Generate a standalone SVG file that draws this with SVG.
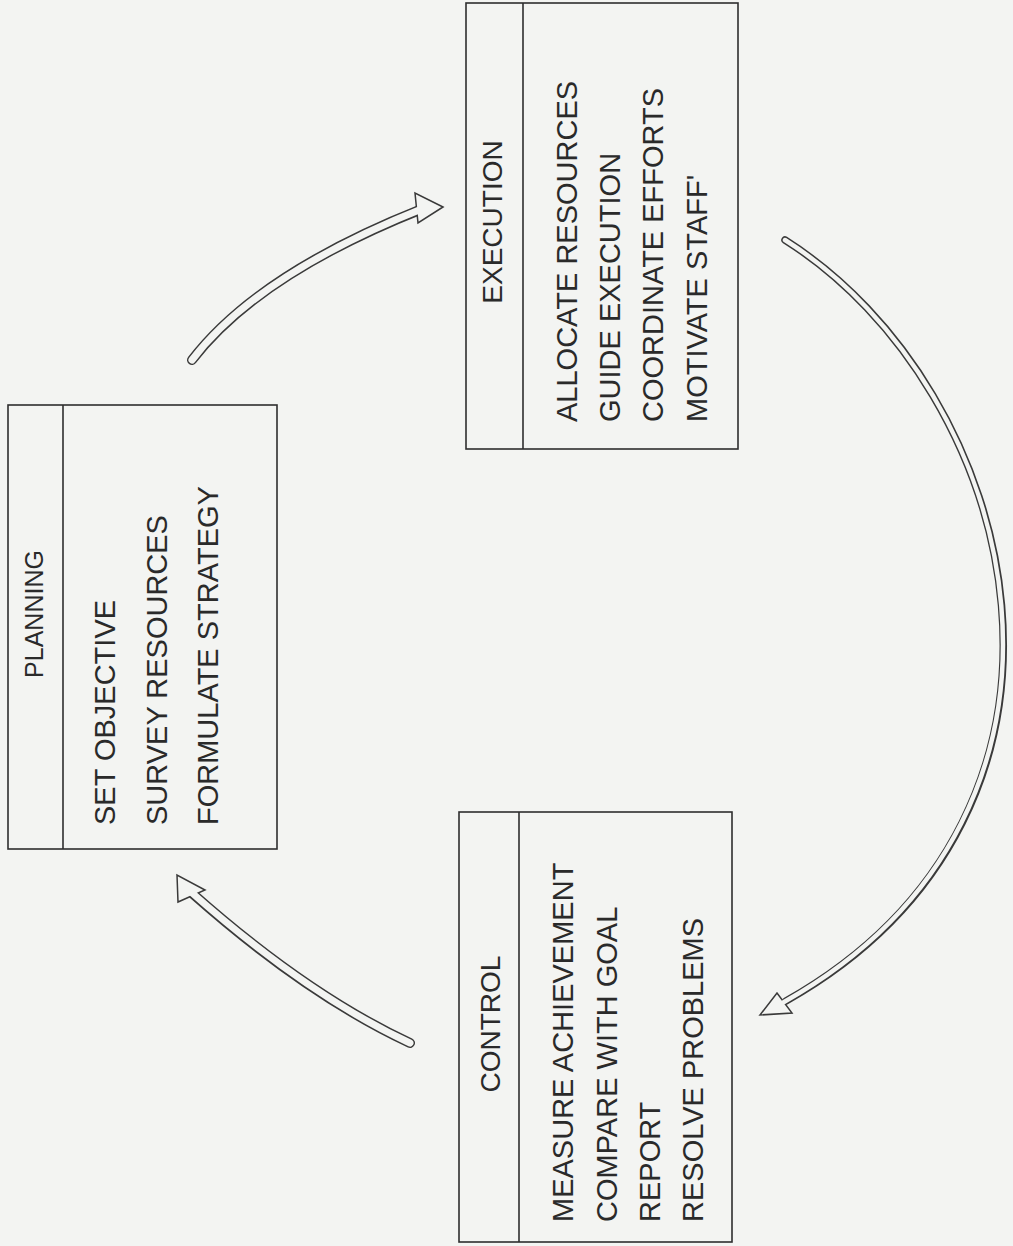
<svg xmlns="http://www.w3.org/2000/svg" width="1013" height="1246" viewBox="0 0 1013 1246">
  <style>
    .box { fill: none; stroke: #2e2e2e; stroke-width: 1.6; }
    .div { stroke: #2e2e2e; stroke-width: 1.6; }
    .title { font-family: "Liberation Sans", Arial, sans-serif; font-size: 28px; fill: #2a2a2a; text-anchor: middle; }
    .item { font-family: "Liberation Sans", Arial, sans-serif; font-size: 29px; fill: #2a2a2a; }
    .outer { fill: none; stroke: #3a3a3a; stroke-linecap: round; }
    .inner { fill: none; stroke: #f3f4f2; stroke-linecap: round; }
    .head { fill: #f3f4f2; stroke: #3a3a3a; stroke-width: 1.5; stroke-linejoin: miter; }
  </style>
  <rect width="1013" height="1246" fill="#f3f4f2"/>

  <!-- Planning -->
  <g id="planning">
    <rect class="box" x="8" y="405" width="269" height="444"/>
    <line class="div" x1="63" y1="405" x2="63" y2="849"/>
    <text class="title" style="font-size:25px" transform="translate(43,614) rotate(-90)">PLANNING</text>
    <text class="item" transform="translate(115,825) rotate(-90)">SET OBJECTIVE</text>
    <text class="item" transform="translate(167,825) rotate(-90)">SURVEY RESOURCES</text>
    <text class="item" transform="translate(218,825) rotate(-90)">FORMULATE STRATEGY</text>
  </g>

  <!-- Execution -->
  <g id="execution">
    <rect class="box" x="466" y="3" width="272" height="446"/>
    <line class="div" x1="523" y1="3" x2="523" y2="449"/>
    <text class="title" transform="translate(502,222) rotate(-90)">EXECUTION</text>
    <text class="item" transform="translate(577,422) rotate(-90)">ALLOCATE RESOURCES</text>
    <text class="item" transform="translate(620,422) rotate(-90)">GUIDE EXECUTION</text>
    <text class="item" transform="translate(663,422) rotate(-90)">COORDINATE EFFORTS</text>
    <text class="item" transform="translate(707,422) rotate(-90)">MOTIVATE STAFF'</text>
  </g>

  <!-- Control -->
  <g id="control">
    <rect class="box" x="459" y="812" width="273" height="430"/>
    <line class="div" x1="519" y1="812" x2="519" y2="1242"/>
    <text class="title" transform="translate(500,1024) rotate(-90)">CONTROL</text>
    <text class="item" transform="translate(573,1222) rotate(-90)">MEASURE ACHIEVEMENT</text>
    <text class="item" transform="translate(617,1222) rotate(-90)">COMPARE WITH GOAL</text>
    <text class="item" transform="translate(660,1222) rotate(-90)">REPORT</text>
    <text class="item" transform="translate(703,1222) rotate(-90)">RESOLVE PROBLEMS</text>
  </g>

  <!-- Hollow curved arrows between the phases -->
  <g id="connectors">
    <!-- planning to execution -->
    <path class="outer" stroke-width="10" d="M192,360 Q258,274 422,209"/>
    <polygon class="head" points="443,207 415,193 418,223"/>
    <path class="inner" stroke-width="7" d="M192,360 Q258,274 424,208"/>

    <!-- execution to control -->
    <path class="outer" stroke-width="7.5" d="M785,240 C1022,390 1125,810 786,1001"/>
    <polygon class="head" points="760,1015 777,993 792,1013"/>
    <path class="inner" stroke-width="4.5" d="M785,240 C1022,390 1125,810 784,1002"/>

    <!-- control to planning -->
    <path class="outer" stroke-width="10" d="M410,1043 Q307,995 193,894"/>
    <polygon class="head" points="177,875 178,902 205,890"/>
    <path class="inner" stroke-width="7" d="M410,1043 Q307,995 191,892"/>
  </g>
</svg>
